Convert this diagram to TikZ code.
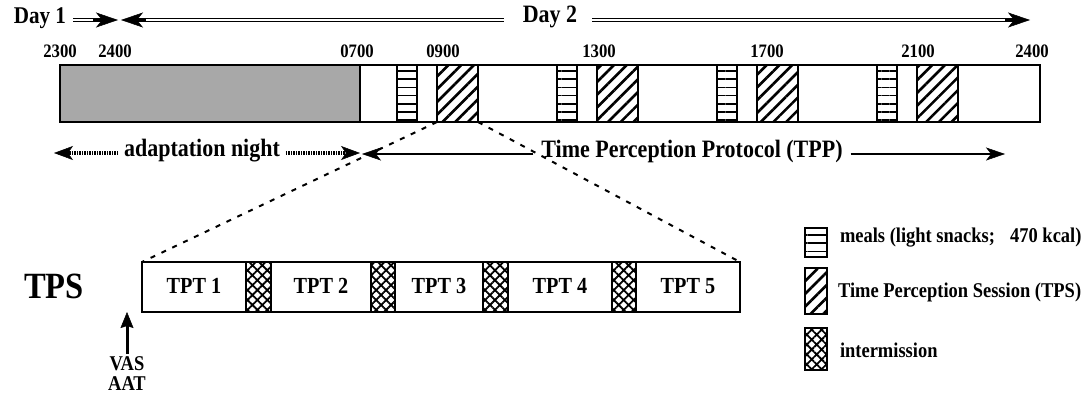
\documentclass[tikz,border=0pt]{standalone}
\usepackage{fontspec}
\setmainfont{Liberation Serif}[FakeStretch=0.88]
\usetikzlibrary{patterns.meta,arrows.meta}
\begin{document}
\begin{tikzpicture}[x=1pt,y=-1pt,
  every node/.style={inner sep=0pt, outer sep=0pt},
  tf/.style={font=\fontsize{#1}{#1}\selectfont\bfseries},
  bx/.style={draw, line width=1.8pt, anchor=north west},
  meal/.style={bx, pattern={Lines[angle=0,distance=8.2pt,line width=1.5pt]}},
  sess/.style={bx, pattern={Lines[angle=45,distance=9pt,line width=2.6pt]}},
  inter/.style={bx, pattern={Hatch[angle=45,distance=7pt,line width=1.8pt]}},
  dayarrow/.style={line width=4.4pt,
    -{Stealth[length=22pt,width=15pt,inset=6pt,line width=0.5pt]}},
  dayinner/.style={white, line width=1.3pt, shorten >=25pt},
  solidarrow/.style={line width=1.8pt, -{Stealth[length=19pt,width=13pt,inset=5pt,line width=0.5pt]}},
  dotarrow/.style={line width=3.4pt, dash pattern=on 1.4pt off 1.1pt,
    -{Stealth[length=19pt,width=14pt,inset=5pt,line width=0.5pt]}},
  zoomline/.style={line width=2pt, dash pattern=on 5pt off 7pt},
  vasarrow/.style={line width=3pt, -{Stealth[length=16pt,width=13pt,inset=2pt,line width=0.5pt]}}
]
\useasboundingbox (0,0) rectangle (1083,399);

% ---- Day labels and arrows ----
\node[tf=24, anchor=east] (day1) at (66,18) {Day 1};
\node[tf=25] (day2) at (550,17) {Day 2};
\coordinate (j1) at (118,20);
\coordinate (j2) at (121,20);
\coordinate (e2) at (1030,20);
\draw[dayarrow, shorten <=7pt] (day1.east |- j1) -- (j1);
\draw[dayinner, shorten <=7pt] (day1.east |- j1) -- (j1);
\draw[dayarrow, shorten <=19pt] (day2.west |- j2) -- (j2);
\draw[dayinner, shorten <=19pt] (day2.west |- j2) -- (j2);
\draw[dayarrow, shorten <=15pt] (day2.east |- e2) -- (e2);
\draw[dayinner, shorten <=15pt] (day2.east |- e2) -- (e2);

% ---- hour labels ----
\node[tf=19] (h2300) at (60,51) {2300};
\node[tf=19] (h2400a) at (115,51) {2400};
\node[tf=19] (h0700) at (357,51) {0700};
\node[tf=19] (h0900) at (443,51) {0900};
\node[tf=19] (h1300) at (599,51) {1300};
\node[tf=19] (h1700) at (767,51) {1700};
\node[tf=19] (h2100) at (918,51) {2100};
\node[tf=19] (h2400b) at (1032,51) {2400};

% ---- main bar ----
\node[fill=black!34, minimum width=300pt, minimum height=57pt, anchor=north west] (night) at (60,65) {};
\foreach \k in {0,1,2,3}{
  \node[meal, minimum width=20pt, minimum height=57pt] (m\k) at ({397+160*\k},65) {};
  \node[sess, minimum width=41pt, minimum height=57pt] (s\k) at ({437+160*\k},65) {};
}
\draw[line width=2pt] (night.north east) -- (night.south east);
\node[draw, line width=2.6pt, minimum width=980pt, minimum height=57pt, anchor=north west] (bar) at (60,65) {};

% ---- period arrows ----
\node[tf=25] (adapt) at (202,151) {adaptation night};
\coordinate (a1) at (54,153);
\coordinate (j4) at (360,153);
\draw[dotarrow, shorten <=6pt] (adapt.west |- a1) -- (a1);
\draw[dotarrow, shorten <=6pt] (adapt.east |- j4) -- (j4);

\node[tf=25] (tpp) at (692,151) {Time Perception Protocol (TPP)};
\coordinate (j3) at (362,154);
\coordinate (e3) at (1005,154);
\draw[solidarrow, shorten <=8pt] (tpp.west |- j3) -- (j3);
\draw[solidarrow, shorten <=8pt] (tpp.east |- e3) -- (e3);

% ---- TPS row ----
\node[tf=37] (tps) at (54,286) {TPS};
\node[draw, line width=2pt, minimum width=598pt, minimum height=50pt, anchor=north west] (row) at (142,262) {};
\node[inter, minimum width=25pt, minimum height=50pt] (x1) at (246,262) {};
\node[inter, minimum width=24pt, minimum height=50pt] (x2) at (371,262) {};
\node[inter, minimum width=25pt, minimum height=50pt] (x3) at (483,262) {};
\node[inter, minimum width=24pt, minimum height=50pt] (x4) at (612,262) {};
\node[tf=23] (t1) at (194,286) {TPT 1};
\node[tf=23] (t2) at (321,286) {TPT 2};
\node[tf=23] (t3) at (439,286) {TPT 3};
\node[tf=23] (t4) at (560,286) {TPT 4};
\node[tf=23] (t5) at (688,286) {TPT 5};

\draw[zoomline] (s0.south west) -- (row.north west);
\draw[zoomline] (s0.south east) -- (row.north east);

\node[font=\fontsize{21}{20}\selectfont\bfseries, align=center] (vas) at (127,374) {VAS\\AAT};
\draw[vasarrow, shorten <=3pt] (vas.north) -- (row.south west -| vas.north);

% ---- legend ----
\node[meal, minimum width=22pt, minimum height=29pt] (lm) at (805,228) {};
\node[sess, minimum width=22pt, minimum height=46pt] (ls) at (805,268) {};
\node[inter, minimum width=22pt, minimum height=42pt] (li) at (805,328) {};
\node[tf=21, anchor=west] (lmt) at (840,238) {meals (light snacks;\hspace{0.5em} 470 kcal)};
\node[tf=21, anchor=west] (lst) at (838,292) {Time Perception Session (TPS)};
\node[tf=21, anchor=west] (lit) at (840,350) {intermission};
\end{tikzpicture}
\end{document}
